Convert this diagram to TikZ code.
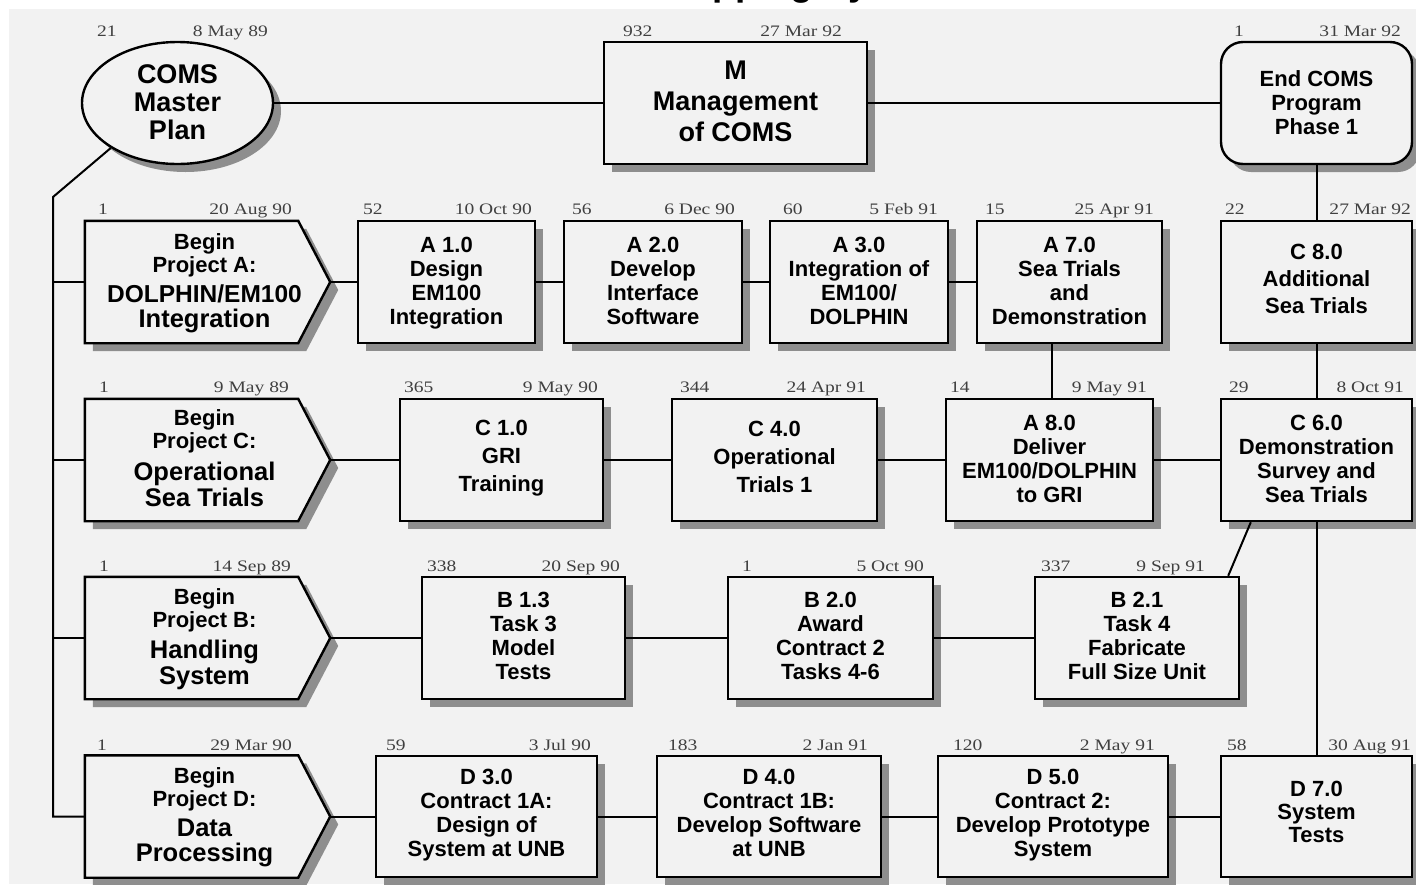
\documentclass[tikz,border=0pt]{standalone}
\usepackage{fontspec}
\setmainfont{Liberation Sans}
\newfontfamily\lblfont{Liberation Serif}[FakeStretch=1.22]
\usetikzlibrary{shapes.geometric,shadows}
\definecolor{bg}{HTML}{F2F2F2}
\definecolor{shd}{HTML}{8E8E8E}
\definecolor{lblc}{HTML}{404040}
\newcommand\pentpath[2]{([shift={#2}]#1.north west) -- ([shift={#2},xshift=-32pt]#1.north east) -- ([shift={#2}]#1.east) -- ([shift={#2},xshift=-32pt]#1.south east) -- ([shift={#2}]#1.south west) -- cycle}
\tikzset{
  boxline/.style={draw=black, line width=2.4pt},
  shadowed/.style={drop shadow={shadow xshift=8pt, shadow yshift=-8pt, fill=shd, opacity=1}},
  tbox/.style={boxline, fill=bg, rectangle, inner sep=0pt, minimum height=122pt, align=center,
    font=\fontsize{22}{24}\selectfont\bfseries, text depth=2.5pt, shadowed},
  ellbox/.style={boxline, fill=bg, ellipse, inner sep=0pt, align=center,
    font=\fontsize{27}{28}\selectfont\bfseries, text depth=1pt, shadowed},
  pentarea/.style={rectangle, inner sep=0pt, minimum width=245pt, minimum height=122pt},
  begintext/.style={align=center, inner sep=0pt, text depth=3.2pt, font=\fontsize{22}{23}\selectfont\bfseries},
  conn/.style={draw=black, line width=2pt},
  lbl/.style={font=\lblfont\fontsize{16}{16}\selectfont, text=lblc, inner sep=0pt},
  numl/.style={lbl, anchor=base west},
  datel/.style={lbl, anchor=base east},
  titletext/.style={font=\fontsize{37}{37}\selectfont\bfseries, inner sep=0pt}
}
\begin{document}
\begin{tikzpicture}[x=1pt,y=-1pt]
\useasboundingbox (0,0) rectangle (1416,884);
\fill[white] (0,0) rectangle (1416,884);
\fill[bg] (9,9) rectangle (1416,884);
\node[titletext, anchor=base west] (title) at (661,-4.5) {Mapping System};

% ---------- top row ----------
\node[ellbox, minimum width=191pt, minimum height=122pt] (ell) at (177.5,103) {COMS\\Master\\Plan};
\node[tbox, minimum width=263pt, text depth=4.4pt, font=\fontsize{27}{31}\selectfont\bfseries] (M) at (735.5,103) {M\\Management\\of COMS};
\node[tbox, rounded corners=22pt, minimum width=191pt, text depth=0pt] (End) at (1316.5,103) {End COMS\\Program\\Phase 1};

% ---------- begin boxes ----------
\node[pentarea] (bA) at (207.5,282) {};
\node[pentarea] (bC) at (207.5,460) {};
\node[pentarea] (bB) at (207.5,638) {};
\node[pentarea] (bD) at (207.5,816.5) {};
\fill[shd] \pentpath{bA}{(8,8)};
\fill[shd] \pentpath{bC}{(8,8)};
\fill[shd] \pentpath{bB}{(8,8)};
\fill[shd] \pentpath{bD}{(8,8)};
\draw[boxline, fill=bg] \pentpath{bA}{(0,0)};
\draw[boxline, fill=bg] \pentpath{bC}{(0,0)};
\draw[boxline, fill=bg] \pentpath{bB}{(0,0)};
\draw[boxline, fill=bg] \pentpath{bD}{(0,0)};
\node[begintext] (bAt) at ([xshift=-3pt]bA.center) {Begin\\Project A:\\[7pt]{\fontsize{24.5}{24}\selectfont DOLPHIN/EM100}\\[2pt]{\fontsize{25.5}{24}\selectfont Integration}};
\node[begintext] (bCt) at ([xshift=-3pt]bC.center) {Begin\\Project C:\\[7pt]{\fontsize{25.5}{24}\selectfont Operational}\\[2pt]{\fontsize{25.5}{24}\selectfont Sea Trials}};
\node[begintext] (bBt) at ([xshift=-3pt]bB.center) {Begin\\Project B:\\[7pt]{\fontsize{25.5}{24}\selectfont Handling}\\[2pt]{\fontsize{25.5}{24}\selectfont System}};
\node[begintext] (bDt) at ([xshift=-3pt]bD.center) {Begin\\Project D:\\[7pt]{\fontsize{25.5}{24}\selectfont Data}\\[2pt]{\fontsize{25.5}{24}\selectfont Processing}};

% ---------- row A ----------
\node[tbox, minimum width=177pt] (A1) at (446.5,282) {A 1.0\\Design\\EM100\\Integration};
\node[tbox, minimum width=178pt] (A2) at (653,282) {A 2.0\\Develop\\Interface\\Software};
\node[tbox, minimum width=178pt] (A3) at (859,282) {A 3.0\\Integration of\\EM100/\\DOLPHIN};
\node[tbox, minimum width=185pt] (A7) at (1069.5,282) {A 7.0\\Sea Trials\\and\\Demonstration};
\node[tbox, minimum width=191pt, text depth=6pt, font=\fontsize{22}{27}\selectfont\bfseries] (C8) at (1316.5,282) {C 8.0\\Additional\\Sea Trials};

% ---------- row C ----------
\node[tbox, minimum width=203pt, text depth=9pt, font=\fontsize{22}{28}\selectfont\bfseries] (C1) at (501.5,460) {C 1.0\\GRI\\Training};
\node[tbox, minimum width=205pt, text depth=7pt, font=\fontsize{22}{28}\selectfont\bfseries] (C4) at (774.5,460) {C 4.0\\Operational\\Trials 1};
\node[tbox, minimum width=207pt, text depth=3.2pt] (A8) at (1049.5,460) {A 8.0\\Deliver\\EM100/DOLPHIN\\to GRI};
\node[tbox, minimum width=191pt, text depth=3.2pt] (C6) at (1316.5,460) {C 6.0\\Demonstration\\Survey and\\Sea Trials};

% ---------- row B ----------
\node[tbox, minimum width=203pt, text depth=3.4pt] (B13) at (523.5,638) {B 1.3\\Task 3\\Model\\Tests};
\node[tbox, minimum width=205pt, text depth=3.4pt] (B20) at (830.5,638) {B 2.0\\Award\\Contract 2\\Tasks 4-6};
\node[tbox, minimum width=204pt, text depth=3.4pt] (B21) at (1137,638) {B 2.1\\Task 4\\Fabricate\\Full Size Unit};

% ---------- row D ----------
\node[tbox, minimum width=221pt, minimum height=121pt, text depth=7pt] (D3) at (486.5,816.5) {D 3.0\\Contract 1A:\\Design of\\System at UNB};
\node[tbox, minimum width=224pt, minimum height=121pt, text depth=7pt] (D4) at (769,816.5) {D 4.0\\Contract 1B:\\Develop Software\\at UNB};
\node[tbox, minimum width=230pt, minimum height=121pt, text depth=7pt] (D5) at (1053,816.5) {D 5.0\\Contract 2:\\Develop Prototype\\System};
\node[tbox, minimum width=191pt, minimum height=121pt, text depth=9pt, font=\fontsize{22}{23}\selectfont\bfseries] (D7) at (1316.5,816.5) {D 7.0\\System\\Tests};

% ---------- connectors ----------
\coordinate (spTop) at (53,197);
\coordinate (spBot) at (53,816.5);
\draw[conn] (ell.east) -- (M.west);
\draw[conn] (M.east) -- (End.west);
\draw[conn] (ell.214) -- (spTop) -- (spBot) -- (bD.west);
\draw[conn] (spTop |- bA.west) -- (bA.west);
\draw[conn] (spTop |- bC.west) -- (bC.west);
\draw[conn] (spTop |- bB.west) -- (bB.west);

\draw[conn] (bA.east) -- (A1.west);
\draw[conn] (A1.east) -- (A2.west);
\draw[conn] (A2.east) -- (A3.west);
\draw[conn] (A3.east) -- (A7.west);

\draw[conn] (End.south) -- (C8.north);
\draw[conn] (C8.south) -- (C6.north);
\draw[conn] (C6.south) -- (D7.north);
\draw[conn] ([xshift=2pt]A8.north) -- ([xshift=2pt]A8.north |- A7.south);

\draw[conn] (bC.east) -- (C1.west);
\draw[conn] (C1.east) -- (C4.west);
\draw[conn] (C4.east) -- (A8.west);
\draw[conn] (A8.east) -- (C6.west);

\draw[conn] (bB.east) -- (B13.west);
\draw[conn] (B13.east) -- (B20.west);
\draw[conn] (B20.east) -- (B21.west);
\draw[conn] ([xshift=-12pt]B21.north east) -- ([xshift=31pt]C6.south west);

\draw[conn] (bD.east) -- (D3.west);
\draw[conn] (D3.east) -- (D4.west);
\draw[conn] (D4.east) -- (D5.west);
\draw[conn] (D5.east) -- (D7.west);

% ---------- labels ----------
\node[numl] (ellN) at (97,36.5) {21};     \node[datel] (ellD) at (268,36.5) {8 May 89};
\node[numl] (MN) at (623,36.5) {932};     \node[datel] (MD) at (842,36.5) {27 Mar 92};
\node[numl] (EndN) at (1234,36.5) {1};    \node[datel] (EndD) at (1401,36.5) {31 Mar 92};

\node[numl] (bAN) at (98,214.5) {1};      \node[datel] (bAD) at (292,214.5) {20 Aug 90};
\node[numl] (A1N) at (363,214.5) {52};    \node[datel] (A1D) at (532,214.5) {10 Oct 90};
\node[numl] (A2N) at (572,214.5) {56};    \node[datel] (A2D) at (735,214.5) {6 Dec 90};
\node[numl] (A3N) at (783,214.5) {60};    \node[datel] (A3D) at (938,214.5) {5 Feb 91};
\node[numl] (A7N) at (985,214.5) {15};    \node[datel] (A7D) at (1154,214.5) {25 Apr 91};
\node[numl] (C8N) at (1225,214.5) {22};   \node[datel] (C8D) at (1411,214.5) {27 Mar 92};

\node[numl] (bCN) at (99,392.5) {1};      \node[datel] (bCD) at (289,392.5) {9 May 89};
\node[numl] (C1N) at (404,392.5) {365};   \node[datel] (C1D) at (598,392.5) {9 May 90};
\node[numl] (C4N) at (680,392.5) {344};   \node[datel] (C4D) at (866,392.5) {24 Apr 91};
\node[numl] (A8N) at (950,392.5) {14};    \node[datel] (A8D) at (1147,392.5) {9 May 91};
\node[numl] (C6N) at (1229,392.5) {29};   \node[datel] (C6D) at (1404,392.5) {8 Oct 91};

\node[numl] (bBN) at (99,571.5) {1};      \node[datel] (bBD) at (291,571.5) {14 Sep 89};
\node[numl] (B13N) at (427,571.5) {338};  \node[datel] (B13D) at (620,571.5) {20 Sep 90};
\node[numl] (B20N) at (742,571.5) {1};    \node[datel] (B20D) at (924,571.5) {5 Oct 90};
\node[numl] (B21N) at (1041,571.5) {337}; \node[datel] (B21D) at (1205,571.5) {9 Sep 91};

\node[numl] (bDN) at (97,750) {1};        \node[datel] (bDD) at (292,750) {29 Mar 90};
\node[numl] (D3N) at (386,750) {59};      \node[datel] (D3D) at (591,750) {3 Jul 90};
\node[numl] (D4N) at (668,750) {183};     \node[datel] (D4D) at (868,750) {2 Jan 91};
\node[numl] (D5N) at (953,750) {120};     \node[datel] (D5D) at (1155,750) {2 May 91};
\node[numl] (D7N) at (1227,750) {58};     \node[datel] (D7D) at (1411,750) {30 Aug 91};
\end{tikzpicture}
\end{document}
